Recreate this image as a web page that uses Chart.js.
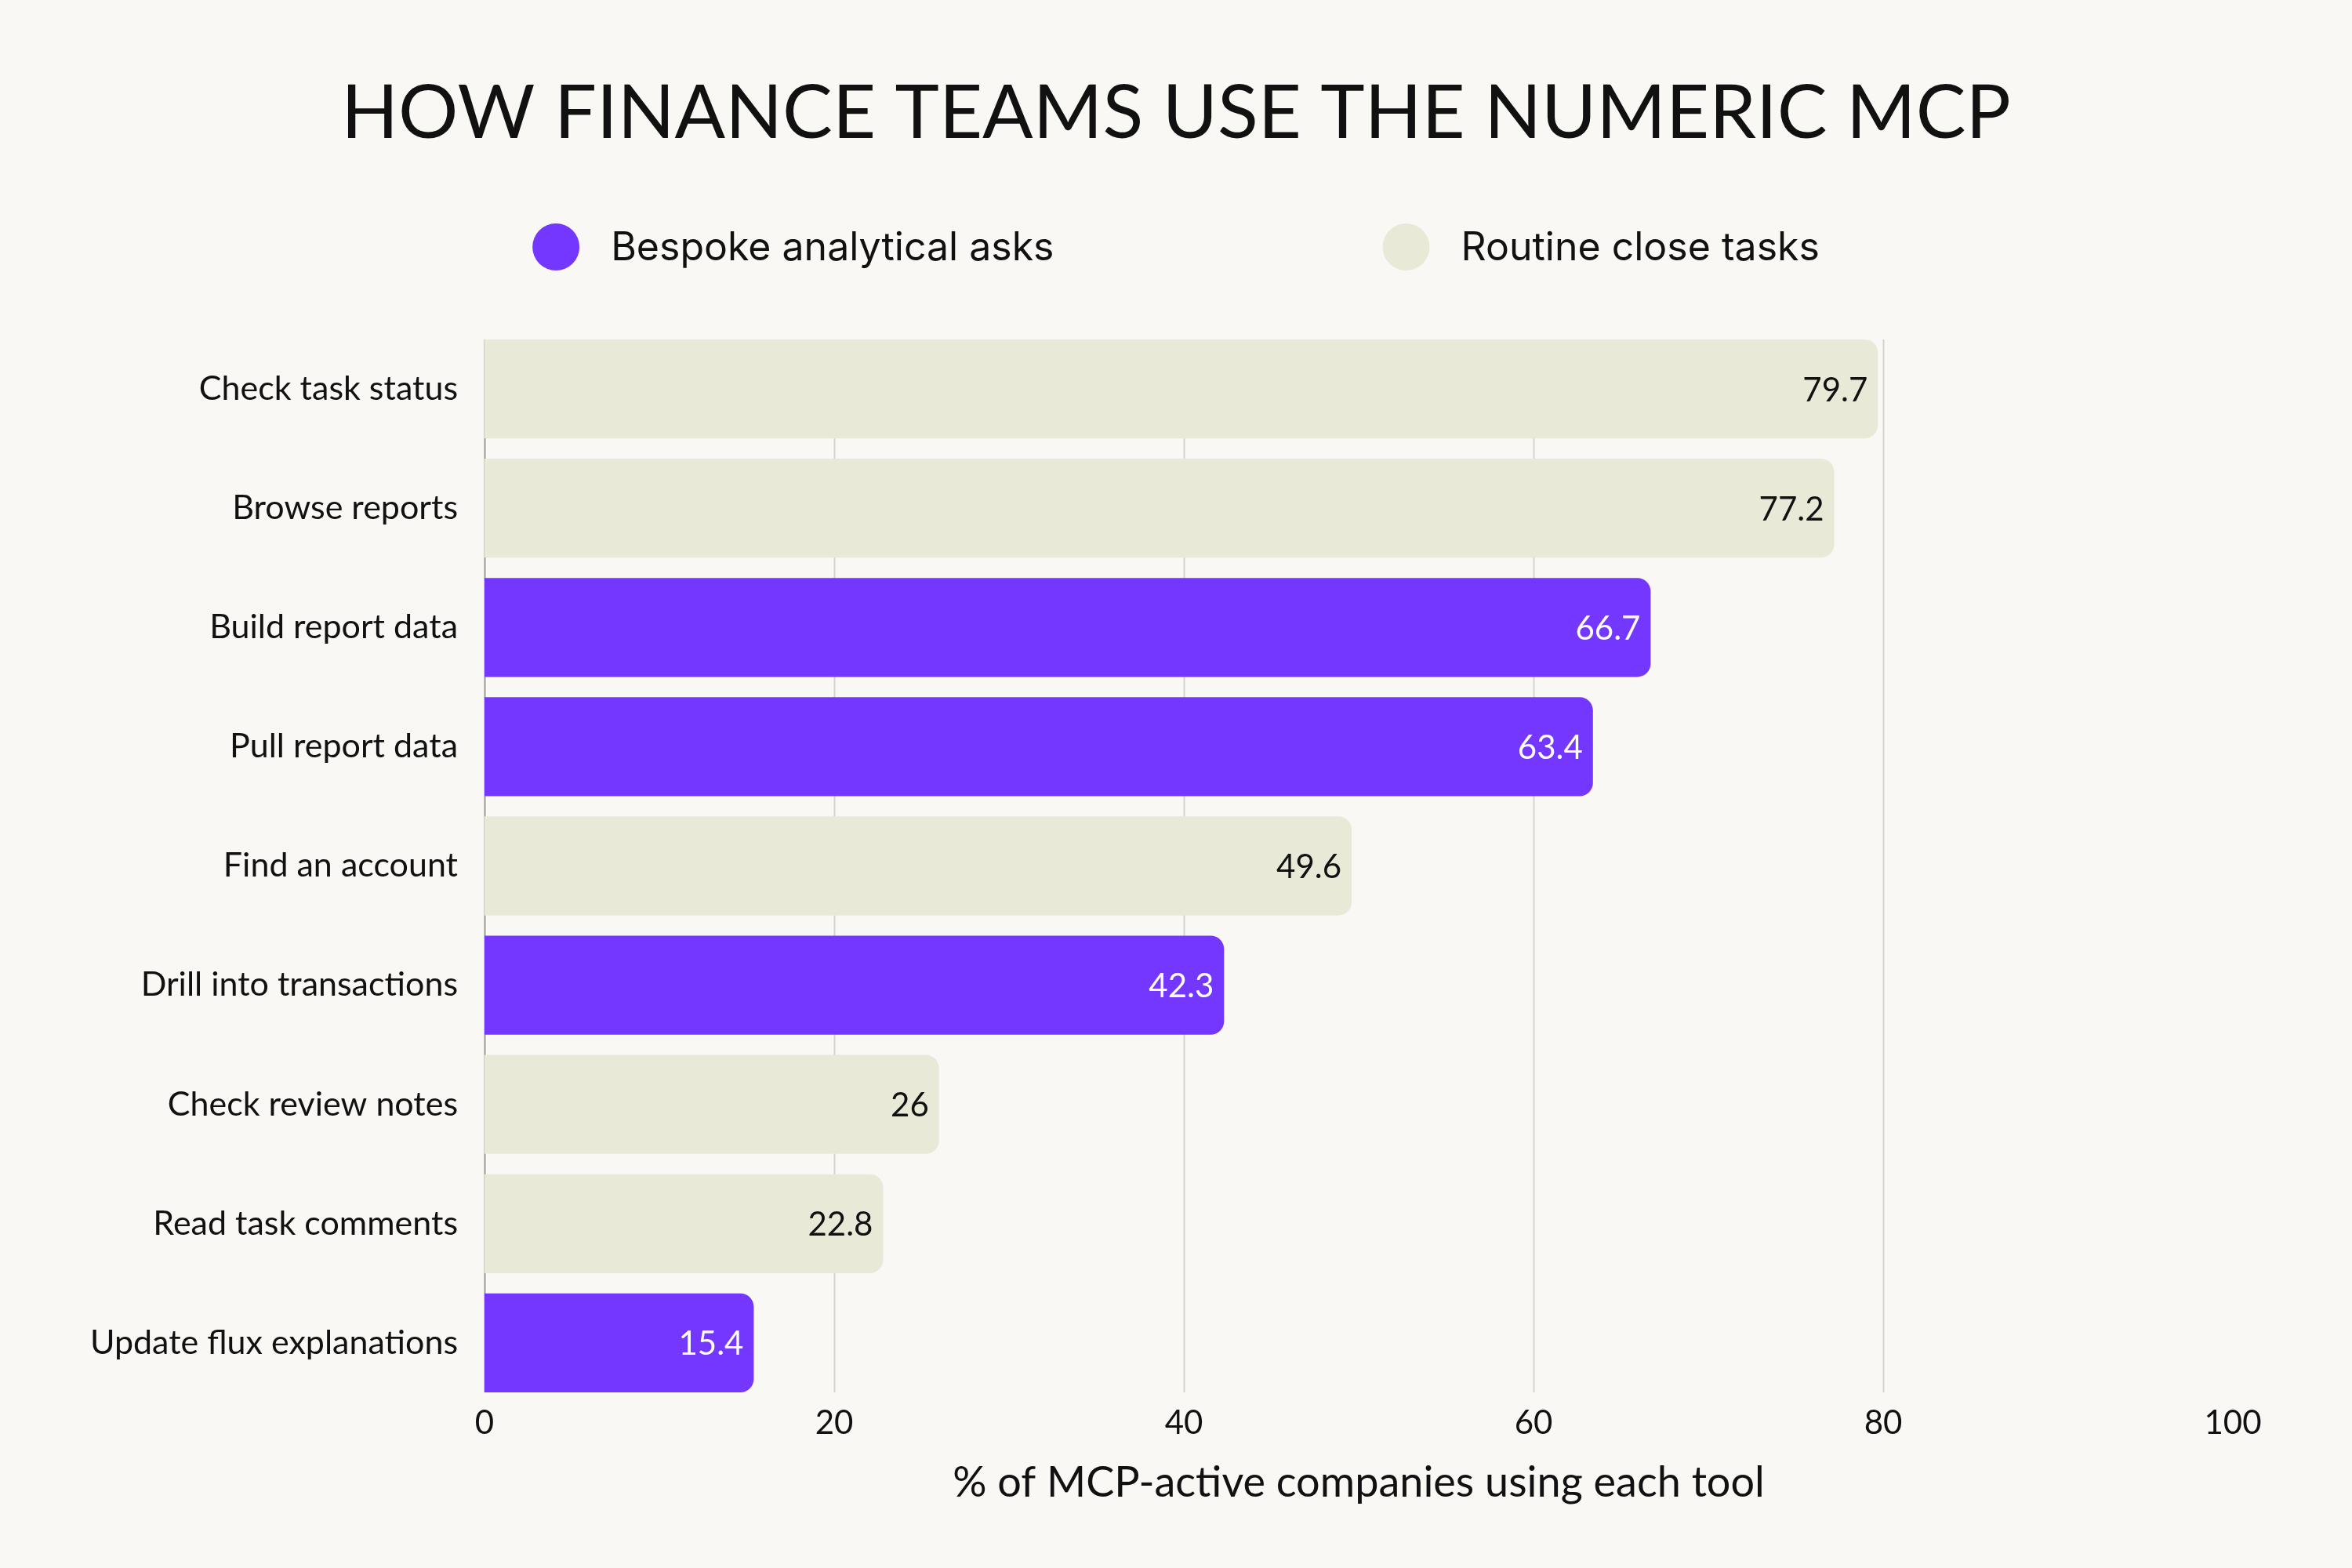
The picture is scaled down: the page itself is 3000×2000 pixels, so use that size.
<!DOCTYPE html>
<html>
<head>
<meta charset="utf-8">
<script src="https://cdn.jsdelivr.net/npm/chart.js@4/dist/chart.umd.min.js"></script>
<style>
  html, body { margin: 0; padding: 0; background: #F9F8F5; }
  #wrap { width: 3000px; height: 2000px; }
</style>
</head>
<body>
<div id="wrap"><canvas id="c" width="3000" height="2000"></canvas></div>
<script>
// ---- data ----
const titleText = 'HOW FINANCE TEAMS USE THE NUMERIC MCP';
const categories = [
  'Check task status', 'Browse reports', 'Build report data', 'Pull report data',
  'Find an account', 'Drill into transactions', 'Check review notes',
  'Read task comments', 'Update flux explanations'
];
const values = [79.7, 77.2, 66.7, 63.4, 49.6, 42.3, 26, 22.8, 15.4];
const taskType = ['routine', 'routine', 'bespoke', 'bespoke', 'routine', 'bespoke', 'routine', 'routine', 'bespoke'];
const seriesKeys = ['bespoke', 'routine'];
const seriesNames = ['Bespoke analytical asks', 'Routine close tasks'];
const xTicks = [0, 20, 40, 60, 80, 100];
const xAxisTitle = '% of MCP-active companies using each tool';

// ---- styles ----
const PURPLE = '#7337FF';
const BEIGE = '#E8EAD7';
const TEXT = '#111111';
const seriesColors = { bespoke: PURPLE, routine: BEIGE };
const labelColors = { bespoke: '#FFFFFF', routine: TEXT };

const datasets = seriesKeys.map((key, i) => ({
  label: seriesNames[i],
  key: key,
  data: values.map((v, j) => taskType[j] === key ? v : null),
  backgroundColor: seriesColors[key],
  borderWidth: 0,
  borderRadius: 17,
  borderSkipped: 'start',
  grouped: false,
  barPercentage: 0.83,
  categoryPercentage: 1.0
}));

const CHART_TOP = 420, CHART_BOTTOM = 1789, CHART_LEFT = 618, RIGHT_PAD = 152;

const bgPlugin = {
  id: 'bg',
  beforeDraw(chart) {
    const ctx = chart.ctx;
    ctx.save();
    ctx.fillStyle = '#F9F8F5';
    ctx.fillRect(0, 0, chart.width, chart.height);
    ctx.restore();
  }
};

function barExtent(chart) {
  const y = chart.scales.y;
  const slot = y.getPixelForValue(1) - y.getPixelForValue(0);
  const h = slot * 0.83;
  return [y.getPixelForValue(0) - h / 2, y.getPixelForValue(categories.length - 1) + h / 2];
}

const gridPlugin = {
  id: 'customGrid',
  beforeDatasetsDraw(chart) {
    const ctx = chart.ctx;
    const x = chart.scales.x;
    const [t, b] = barExtent(chart);
    ctx.save();
    xTicks.forEach(v => {
      if (v === 100) return;
      const px = Math.round(x.getPixelForValue(v)) + 0.5;
      ctx.strokeStyle = v === 0 ? '#9A9A9A' : '#D3D3D0';
      ctx.lineWidth = 2;
      ctx.beginPath();
      ctx.moveTo(px, t);
      ctx.lineTo(px, b);
      ctx.stroke();
    });
    ctx.restore();
  }
};

const valueLabelPlugin = {
  id: 'valueLabels',
  afterDatasetsDraw(chart) {
    const ctx = chart.ctx;
    ctx.save();
    ctx.font = '42px Lato';
    ctx.textAlign = 'right';
    ctx.textBaseline = 'middle';
    chart.data.datasets.forEach((ds, di) => {
      const meta = chart.getDatasetMeta(di);
      meta.data.forEach((el, i) => {
        const v = ds.data[i];
        if (v === null || v === undefined) return;
        ctx.fillStyle = labelColors[ds.key];
        ctx.fillText(String(v), el.x - 13, el.y + 2);
      });
    });
    ctx.restore();
  }
};

const headerPlugin = {
  id: 'header',
  afterDraw(chart) {
    const ctx = chart.ctx;
    ctx.save();
    // title
    ctx.font = '95.5px Lato';
    ctx.fillStyle = TEXT;
    ctx.textAlign = 'center';
    ctx.textBaseline = 'middle';
    ctx.fillText(titleText, chart.width / 2, 145);
    // legend
    const r = 30, gapText = 40, gapItems = 419, cy = 315;
    ctx.font = '50px Inter';
    const widths = chart.data.datasets.map(ds => 2 * r + gapText + ctx.measureText(ds.label).width);
    const total = widths.reduce((a, b) => a + b, 0) + gapItems * (widths.length - 1);
    let x = chart.width / 2 - total / 2;
    chart.data.datasets.forEach((ds, i) => {
      ctx.fillStyle = ds.backgroundColor;
      ctx.beginPath();
      ctx.arc(x + r, cy, r, 0, Math.PI * 2);
      ctx.fill();
      ctx.fillStyle = TEXT;
      ctx.textAlign = 'left';
      ctx.textBaseline = 'middle';
      ctx.fillText(ds.label, x + 2 * r + gapText, cy + 2);
      x += widths[i] + gapItems;
    });
    ctx.restore();
  }
};

new Chart(document.getElementById('c'), {
  type: 'bar',
  data: { labels: categories, datasets: datasets },
  plugins: [bgPlugin, gridPlugin, valueLabelPlugin, headerPlugin],
  options: {
    indexAxis: 'y',
    responsive: false,
    maintainAspectRatio: false,
    animation: false,
    devicePixelRatio: 1,
    layout: { padding: { top: CHART_TOP, right: RIGHT_PAD, bottom: 0, left: 0 } },
    plugins: {
      legend: { display: false },
      tooltip: { enabled: false },
      title: { display: false }
    },
    scales: {
      x: {
        type: 'linear',
        min: 0,
        max: 100,
        afterBuildTicks(scale) { scale.ticks = xTicks.map(v => ({ value: v })); },
        afterFit(scale) { scale.height = 2000 - CHART_BOTTOM; },
        grid: { display: false, drawTicks: false },
        border: { display: false },
        ticks: { color: TEXT, font: { family: 'Lato', size: 42 }, padding: 1, maxRotation: 0 },
        title: {
          display: true,
          text: xAxisTitle,
          color: TEXT,
          font: { family: 'Lato', size: 54 },
          padding: { top: 0, bottom: 76 }
        }
      },
      y: {
        type: 'category',
        afterFit(scale) { scale.width = CHART_LEFT; },
        grid: { display: false, drawTicks: false },
        border: { display: false },
        ticks: { color: TEXT, font: { family: 'Lato', size: 43 }, padding: 34 }
      }
    }
  }
});
</script>
</body>
</html>
